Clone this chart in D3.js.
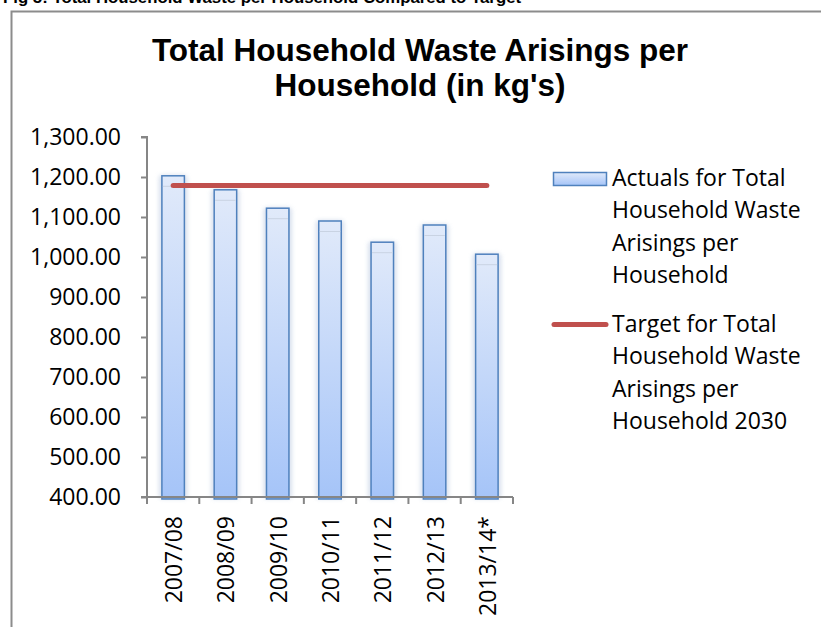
<!DOCTYPE html>
<html>
<head>
<meta charset="utf-8">
<script src="https://cdn.jsdelivr.net/npm/d3@7"></script>
<style>
    body { margin: 0; background: #fff; }
    svg { display: block; }
</style>
</head>
<body>
<div id="chart"></div>
<script>
// data
var years = ["2007/08", "2008/09", "2009/10", "2010/11", "2011/12", "2012/13", "2013/14*"];
var actuals = [1203, 1168, 1122, 1090, 1037, 1080, 1007];
var target = [1179, 1179, 1179, 1179, 1179, 1179, 1179];
var yTicks = [400, 500, 600, 700, 800, 900, 1000, 1100, 1200, 1300];
var titleLines = ["Total Household Waste Arisings per", "Household (in kg's)"];
var legendActual = ["Actuals for Total", "Household Waste", "Arisings per", "Household"];
var legendTarget = ["Target for Total", "Household Waste", "Arisings per", "Household 2030"];

const width = 821, height = 627;
const plot = { left: 147, right: 513, top: 137, bottom: 497 };
const labelFont = "'Open Sans', sans-serif";
const barBlue = "#4f81bd", lineRed = "#c0504d", axisGrey = "#868686";

var svg = d3.select("#chart")
    .append("svg")
    .attr("width", width)
    .attr("height", height);

var defs = svg.append("defs");
var grad = defs.append("linearGradient")
    .attr("id", "barGrad")
    .attr("x1", 0).attr("y1", 0)
    .attr("x2", 0).attr("y2", 1);
grad.append("stop").attr("offset", "0%").attr("stop-color", "#e1eafa");
grad.append("stop").attr("offset", "100%").attr("stop-color", "#a5c4f8");

var glow = defs.append("filter")
    .attr("id", "glow")
    .attr("x", "-40%").attr("y", "-10%")
    .attr("width", "180%").attr("height", "120%");
glow.append("feGaussianBlur").attr("stdDeviation", 2);

// caption (cut off at the top, as in the source page) and frame
svg.append("text")
    .attr("x", 3)
    .attr("y", 3)
    .style("font-family", "'Liberation Sans', Arial, sans-serif")
    .style("font-weight", "bold")
    .style("font-size", "16.8px")
    .text("Fig 5: Total Household Waste per Household Compared to Target");

svg.append("path")
    .attr("d", "M11.5," + height + " V11.5 H" + (width + 2))
    .attr("fill", "none")
    .attr("stroke", "#8c8c8c")
    .attr("stroke-width", 2);

// title
svg.append("g")
    .selectAll("text")
    .data(titleLines)
    .enter()
    .append("text")
    .attr("x", 420)
    .attr("y", function (d, i) { return 61 + i * 35; })
    .attr("text-anchor", "middle")
    .style("font-family", "'Liberation Sans', Arial, sans-serif")
    .style("font-weight", "bold")
    .style("font-size", "31.5px")
    .text(function (d) { return d; });

// scales
var x = d3.scaleBand()
    .domain(years)
    .range([plot.left, plot.right])
    .padding(0);

var y = d3.scaleLinear()
    .domain([400, 1300])
    .range([plot.bottom, plot.top]);

const barW = x.bandwidth() * 0.43;

// bars: soft shadow first, then the bar
var bars = svg.append("g")
    .selectAll("g.bar")
    .data(actuals)
    .enter()
    .append("g")
    .attr("class", "bar");

bars.append("rect")
    .attr("x", function (d, i) { return x(years[i]) + x.bandwidth() / 2 - barW / 2 - 3; })
    .attr("y", function (d) { return y(d) - 1; })
    .attr("width", barW + 6)
    .attr("height", function (d) { return plot.bottom + 3 - y(d); })
    .attr("rx", 4)
    .attr("fill", "#c8d3e6")
    .attr("opacity", 0.7)
    .attr("filter", "url(#glow)");

bars.append("rect")
    .attr("x", function (d, i) { return x(years[i]) + x.bandwidth() / 2 - barW / 2; })
    .attr("y", function (d) { return y(d); })
    .attr("width", barW)
    .attr("height", function (d) { return plot.bottom + 2 - y(d); })
    .attr("fill", "url(#barGrad)")
    .attr("stroke", barBlue)
    .attr("stroke-width", 1.5);

bars.append("line")
    .attr("x1", function (d, i) { return x(years[i]) + x.bandwidth() / 2 - barW / 2 + 1; })
    .attr("x2", function (d, i) { return x(years[i]) + x.bandwidth() / 2 + barW / 2 - 1; })
    .attr("y1", function (d) { return y(d) + 10.5; })
    .attr("y2", function (d) { return y(d) + 10.5; })
    .attr("stroke", "#c9d3e3")
    .attr("stroke-width", 1);

// axes
var yAxis = svg.append("g")
    .attr("transform", "translate(" + plot.left + ",0)")
    .call(d3.axisLeft(y)
        .tickValues(yTicks)
        .tickSize(6)
        .tickPadding(20)
        .tickFormat(d3.format(",.2f")));

var xAxis = svg.append("g")
    .attr("transform", "translate(0," + plot.bottom + ")")
    .call(d3.axisBottom(x)
        .tickSize(0)
        .tickFormat(""));

[yAxis, xAxis].forEach(function (ax) {
    ax.select(".domain").attr("stroke", axisGrey).attr("stroke-width", 2);
    ax.selectAll(".tick line").attr("stroke", axisGrey).attr("stroke-width", 2);
});
yAxis.select(".domain").attr("d", "M-6," + plot.top + "H0V" + plot.bottom + "H-6");

yAxis.selectAll(".tick text")
    .style("font-family", labelFont)
    .style("font-size", "23px")
    .attr("fill", "#000");

// x ticks on band edges
var edges = years.map(function (d) { return x(d); }).concat([plot.right]);
xAxis.selectAll("line.edge")
    .data(edges)
    .enter()
    .append("line")
    .attr("class", "edge")
    .attr("x1", function (d) { return d; })
    .attr("x2", function (d) { return d; })
    .attr("y1", 0)
    .attr("y2", 7)
    .attr("stroke", axisGrey)
    .attr("stroke-width", 2);
xAxis.select(".domain").attr("d", "M" + plot.left + ",0H" + plot.right);

// rotated category labels
svg.append("g")
    .selectAll("text")
    .data(years)
    .enter()
    .append("text")
    .attr("transform", function (d) {
        return "translate(" + (x(d) + x.bandwidth() / 2 + 9) + "," + 516 + ") rotate(-90)";
    })
    .attr("text-anchor", "end")
    .style("font-family", labelFont)
    .style("font-size", "23px")
    .text(function (d) { return d; });

// target line
var line = d3.line()
    .x(function (d, i) { return x(years[i]) + x.bandwidth() / 2; })
    .y(function (d) { return y(d); });

svg.append("path")
    .datum(target)
    .attr("d", line)
    .attr("fill", "none")
    .attr("stroke", lineRed)
    .attr("stroke-width", 5)
    .attr("stroke-linecap", "round");

// legend
var legend = svg.append("g");
legend.append("rect")
    .attr("x", 553.5)
    .attr("y", 172.5)
    .attr("width", 53)
    .attr("height", 13)
    .attr("fill", "url(#barGrad)")
    .attr("stroke", barBlue)
    .attr("stroke-width", 1.5);

legend.append("line")
    .attr("x1", 554)
    .attr("x2", 606)
    .attr("y1", 324.5)
    .attr("y2", 324.5)
    .attr("stroke", lineRed)
    .attr("stroke-width", 5)
    .attr("stroke-linecap", "round");

[[legendActual, 186], [legendTarget, 332]].forEach(function (entry) {
    legend.append("g")
        .selectAll("text")
        .data(entry[0])
        .enter()
        .append("text")
        .attr("x", 612)
        .attr("y", function (d, i) { return entry[1] + i * 32.4; })
        .style("font-family", labelFont)
        .style("font-size", "23px")
        .text(function (d) { return d; });
});
</script>
</body>
</html>
